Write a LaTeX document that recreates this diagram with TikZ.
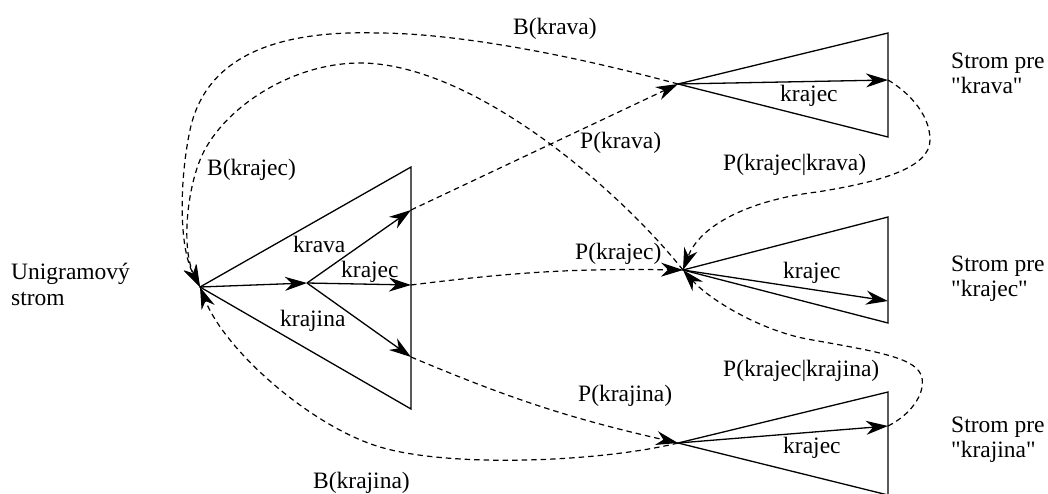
\documentclass[tikz,border=0pt]{standalone}
\usepackage{fontspec}
\setmainfont{Liberation Serif}
\usetikzlibrary{arrows.meta}
\begin{document}
\begin{tikzpicture}[x=1pt,y=-1pt,
  edge/.style={line width=1.3pt},
  link/.style={line width=1.2pt, dash pattern=on 5.5pt off 4pt},
  tip/.style={-{Stealth[length=22pt,width=14pt,inset=7pt]}},
  lbl/.style={anchor=base west, inner sep=0pt, font=\fontsize{23.5}{28}\selectfont}]
\useasboundingbox (0,0) rectangle (1048,493);

% unigram tree
\coordinate (R)  at (200,287);
\coordinate (M)  at (307,283);
\coordinate (Ut) at (411,167);
\coordinate (Ub) at (411,409);
\coordinate (U1) at (411,210);
\coordinate (U2) at (411,285);
\coordinate (U3) at (411,357);
\draw[edge] (Ut) -- (R) -- (Ub) -- cycle;
\draw[edge,tip] (R) -- (M);
\draw[edge,tip] (M) -- (U1);
\draw[edge,tip] (M) -- (U2);
\draw[edge,tip] (M) -- (U3);

% tree for "krava"
\coordinate (A1)  at (678,84);
\coordinate (K1t) at (888,33);
\coordinate (K1b) at (888,137);
\coordinate (T1)  at (888,80);
\draw[edge] (K1t) -- (A1) -- (K1b) -- cycle;
\draw[edge,tip] (A1) -- (T1);

% tree for "krajec"
\coordinate (A2)  at (683,270);
\coordinate (K2t) at (888,217);
\coordinate (K2b) at (888,323);
\coordinate (T2)  at (888,301);
\draw[edge] (K2t) -- (A2) -- (K2b) -- cycle;
\draw[edge,tip] (A2) -- (T2);

% tree for "krajina"
\coordinate (A3)  at (678,443);
\coordinate (K3t) at (888,392);
\coordinate (K3b) at (888,495);
\coordinate (T3)  at (888,426);
\draw[edge] (K3t) -- (A3) -- (K3b) -- cycle;
\draw[edge,tip] (A3) -- (T3);

% probability links
\draw[link,tip] (U1) -- (A1);
\draw[link,tip] (U2) to[bend left=4] (A2);
\draw[link,tip] (U3) to[bend right=5] (A3);
\draw[link,tip] (T1) .. controls (905,90) and (930,112) .. (930,140)
  .. controls (930,168) and (880,182) .. (817,192)
  .. controls (750,200) and (700,225) .. (A2);
\draw[link,tip] (T3) .. controls (910,415) and (925,395) .. (922,378)
  .. controls (918,358) and (880,352) .. (807,339)
  .. controls (760,330) and (710,300) .. (A2);

% back-off links
\draw[link,tip] (A1) .. controls (560,52) and (450,33) .. (377,33)
  .. controls (270,30) and (205,60) .. (190,130)
  .. controls (180,177) and (178,245) .. (R);
\draw[link,tip] (A2) .. controls (615,185) and (470,63) .. (360,63)
  .. controls (290,63) and (220,110) .. (200,160)
  .. controls (186,195) and (182,250) .. (R);
\draw[link,tip] (A3) .. controls (600,462) and (450,468) .. (380,447)
  .. controls (310,426) and (225,350) .. (R);

% labels
\node[lbl] (lUni)  at (11,279) {Unigramový};
\node[lbl] (lUni2) at (11,305) {strom};
\node[lbl] (lkrava)   at (293,252) {krava};
\node[lbl] (lkrajec)  at (341,277) {krajec};
\node[lbl] (lkrajina) at (280,326) {krajina};
\node[lbl] (lBkrajec)  at (207,175) {B(krajec)};
\node[lbl] (lBkrava)   at (513,34)  {B(krava)};
\node[lbl] (lPkrava)   at (580,148) {P(krava)};
\node[lbl] (lPkrajec)  at (575,259) {P(krajec)};
\node[lbl] (lPkrajina) at (578,401) {P(krajina)};
\node[lbl] (lBkrajina) at (313,488) {B(krajina)};
\node[lbl] (lPkk) at (723,170) {P(krajec|krava)};
\node[lbl] (lPkj) at (723,376) {P(krajec|krajina)};
\node[lbl] (lt1) at (780,101) {krajec};
\node[lbl] (lt2) at (783,278) {krajec};
\node[lbl] (lt3) at (783,453) {krajec};
\node[lbl] (ls1a) at (951,68)  {Strom pre};
\node[lbl] (ls1b) at (951,93)  {\textquotedbl krava\textquotedbl};
\node[lbl] (ls2a) at (951,271) {Strom pre};
\node[lbl] (ls2b) at (951,296) {\textquotedbl krajec\textquotedbl};
\node[lbl] (ls3a) at (951,432) {Strom pre};
\node[lbl] (ls3b) at (951,457) {\textquotedbl krajina\textquotedbl};
\end{tikzpicture}
\end{document}
